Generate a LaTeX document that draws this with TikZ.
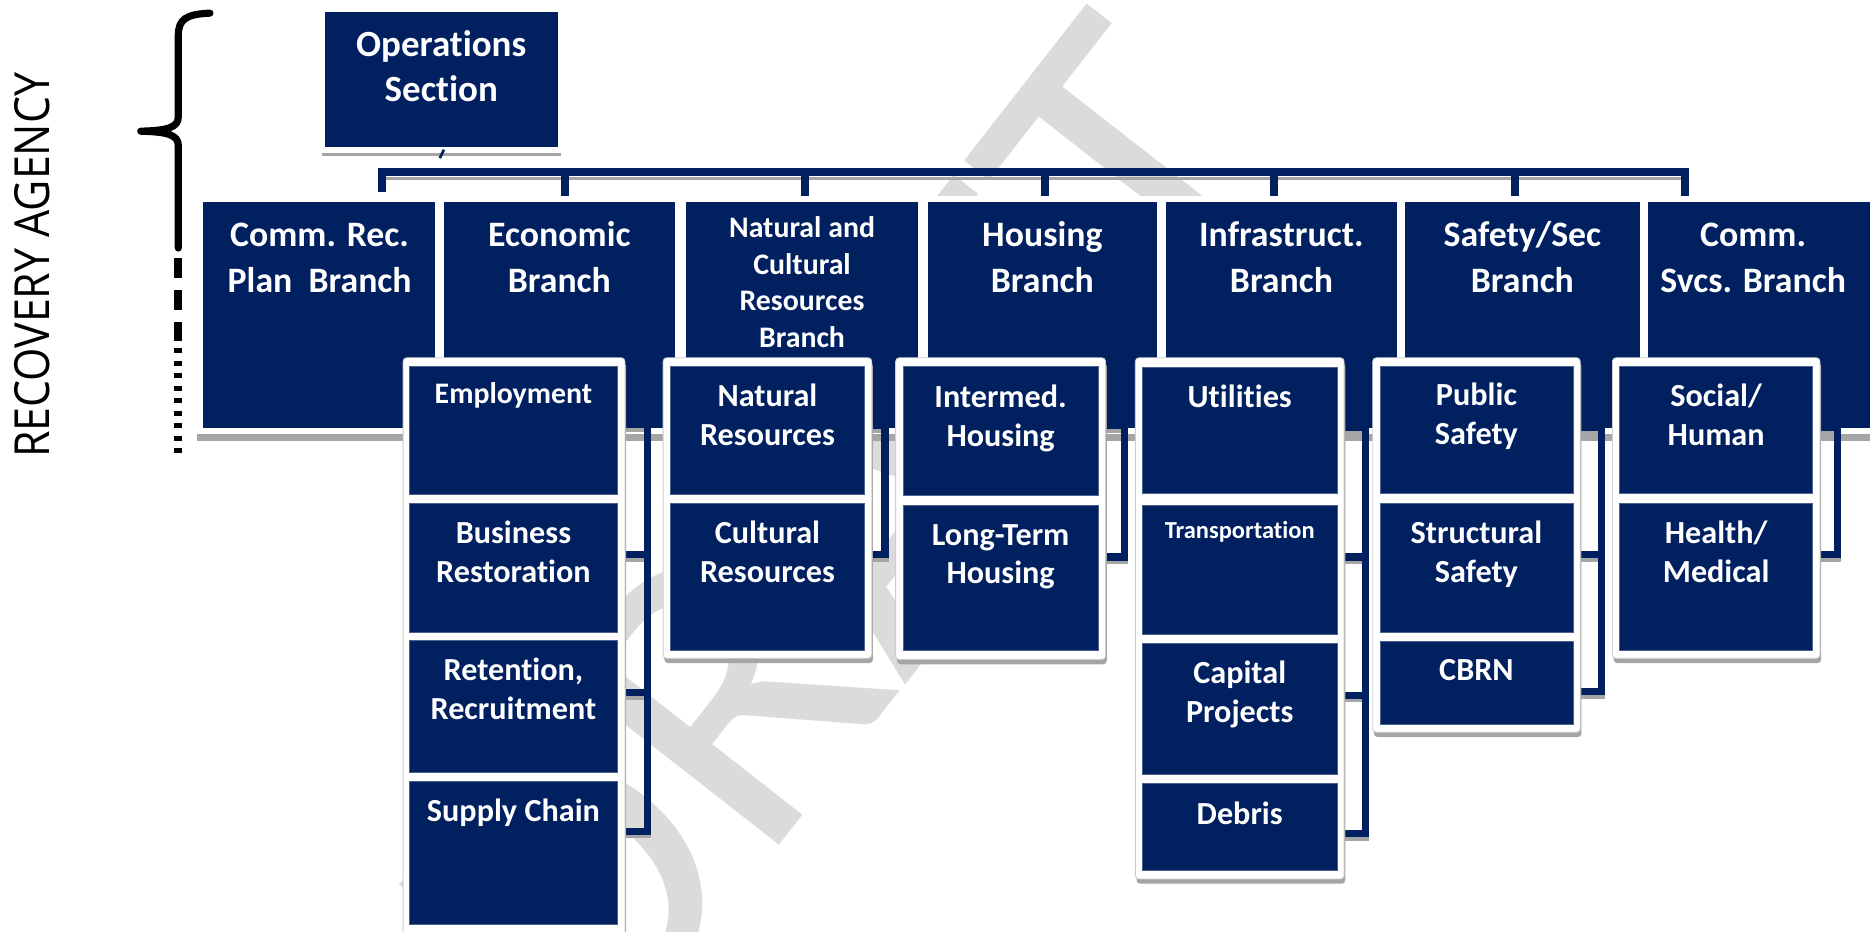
\documentclass[tikz,border=0pt]{standalone}
\usepackage{fontspec}
\usepackage{graphicx}
\setmainfont{Carlito}[RawFeature={-liga}]
\newfontfamily\recfont{Open Sans}
\usetikzlibrary{shadows}
\definecolor{navy}{RGB}{0,32,96}
\definecolor{shgray}{RGB}{165,165,165}
\definecolor{wmgray}{RGB}{219,219,219}
\definecolor{fgray}{RGB}{205,205,205}
\newcommand{\tl}[1]{\begin{tabular}[t]{@{}c@{}}#1\end{tabular}}
\newcommand{\bx}[6][]{\node[inner sep=0pt, outer sep=0pt, minimum width={#5-#3}, minimum height={#6-#4}, #1] (#2) at ({(#3+#5)/2},{(#4+#6)/2}) {};}
\begin{document}
\begin{tikzpicture}[x=1pt,y=-1pt,
  nbr/.style={fill=navy, draw=white, line width=5pt},
  nch/.style={fill=navy, draw=navy!70!white, line width=0.5pt},
  cfr/.style={fill=white, draw=fgray, line width=0.7pt, rounded corners=3pt, general shadow={fill=shgray, shadow xshift=1pt, shadow yshift=-4pt}},
  bt/.style={text=white, anchor=base, inner sep=0pt, font=\bfseries\fontsize{30}{38}\selectfont},
  ct/.style={text=white, anchor=base, inner sep=0pt, font=\bfseries\fontsize{27}{32.5}\selectfont},
  conn/.style={draw=navy, line width=6pt},
  csh/.style={draw=shgray, line width=3pt},
  bus/.style={draw=navy, line width=6.5pt}]
\path[use as bounding box] (0,0) rectangle (1568,781);
\clip (0,0) rectangle (1568,781);

% watermark
\node[text=wmgray, font=\fontsize{360}{360}\selectfont, rotate=52, inner sep=0pt] (wm) at (708,452) {DRAFT};

% side label, brace and dashes
\node[rotate=90, inner sep=0pt] (rec) at (27.3,222.5) {\resizebox{323pt}{29.4pt}{\recfont RECOVERY AGENCY}};
\draw[black, line width=6pt, line cap=round, line join=round]
  (176,11) .. controls (156,12) and (149.5,16) .. (149.5,30) -- (149.5,98)
  .. controls (149.5,107) and (140,109.5) .. (118,110)
  .. controls (140,110.5) and (149.5,113) .. (149.5,122) -- (149.5,208);
\draw[black, line width=6.5pt, dash pattern=on 17pt off 10pt] (149.5,216) -- (149.5,286);
\draw[black, line width=6.5pt, dash pattern=on 4pt off 6.5pt] (149.5,292) -- (149.5,382);

% operations section
\bx[nbr, general shadow={fill=shgray, shadow yshift=-5pt}]{ops}{270}{7.5}{470.5}{125.5}
\node[bt, font=\bfseries\fontsize{31}{38}\selectfont] (tops) at (370,47.5) {\tl{Operations\\Section}};
\draw[navy, line width=2.2pt] ([xshift=2pt]ops.south) -- ++(-3.5,7);

% bus
\coordinate (busL) at (320,144.5);
\coordinate (busR) at (1413,144.5);
\coordinate (dCR) at (320,161);
\coordinate (dCS) at (1413,169);
\draw[shgray, line width=3pt] (323,149.5) -- (1410,149.5);
\draw[bus] (dCR) -- (busL) -- (busR) -- (dCS);
\foreach \dx in {474,675,876,1068,1270}{\draw[bus] (\dx,144.5) -- (\dx,169);}

% branch row
\fill[shgray] (165,175) rectangle (1592,370);
\bx[nbr]{bCR}{167.5}{166.5}{367.5}{361.5}
\bx[nbr]{bEco}{369.5}{166.5}{568.5}{361.5}
\bx[nbr]{bNat}{572.5}{166.5}{772.5}{361.5}
\bx[nbr]{bHou}{775.5}{166.5}{972.5}{361.5}
\bx[nbr]{bInf}{975.5}{166.5}{1173.5}{361.5}
\bx[nbr]{bSaf}{1175.5}{166.5}{1377.5}{361.5}
\bx[nbr]{bCS}{1379.5}{166.5}{1592.5}{361.5}
\node[bt] (tCR) at (268,207) {\tl{Comm. Rec.\\Plan\ \ Branch}};
\node[bt] (tEco) at (469,207) {\tl{Economic\\Branch}};
\node[bt, font=\bfseries\fontsize{25}{30.5}\selectfont] (tNat) at (672.5,199.5) {\tl{Natural and\\Cultural\\Resources\\Branch}};
\node[bt] (tHou) at (874,207) {\tl{Housing\\Branch}};
\node[bt] (tInf) at (1074.5,207) {\tl{Infrastruct.\\Branch}};
\node[bt] (tSaf) at (1276.5,207) {\tl{Safety/Sec\\Branch}};
\node[bt] (tCS) at (1470,207) {\tl{Comm.\\Svcs. Branch}};

% connector shadows
\foreach \a/\b/\y in {524/546/356,524/546/465,524/546/581,524/546/697,
  731/745/357,731/745/465, 927/946/357,927/946/467,
  1127/1148/358,1127/1148/467,1127/1148/583,1127/1148/699,
  1325/1346/358,1325/1346/465,1325/1346/580, 1526/1544/358,1526/1544/465}
  {\draw[csh] (\a,\y+4.5) -- (\b,\y+4.5);}

% connectors
\coordinate (vEco) at (543,268);
\coordinate (vNat) at (742,268);
\coordinate (vHou) at (943,268);
\coordinate (vInf) at (1145,268);
\coordinate (vSaf) at (1343,268);
\coordinate (vCS) at (1541,268);
\draw[conn] (524,697) -| (vEco);
\foreach \y in {356,465,581}{\draw[conn] (524,\y) -- (546,\y);}
\draw[conn] (731,465) -| (vNat);
\draw[conn] (731,357) -- (745,357);
\draw[conn] (927,467) -| (vHou);
\draw[conn] (927,357) -- (946,357);
\draw[conn] (1127,699) -| (vInf);
\foreach \y in {358,467,583}{\draw[conn] (1127,\y) -- (1148,\y);}
\draw[conn] (1325,580) -| (vSaf);
\foreach \y in {358,465}{\draw[conn] (1325,\y) -- (1346,\y);}
\draw[conn] (1526,465) -| (vCS);
\draw[conn] (1526,358) -- (1544,358);

% child frames
\bx[cfr]{fEco}{338}{300}{524}{795}
\bx[cfr]{fNat}{556}{300}{731}{552}
\bx[cfr]{fHou}{751}{300}{927}{553}
\bx[cfr]{fInf}{952}{300}{1127}{737}
\bx[cfr]{fSaf}{1151}{300}{1325}{614}
\bx[cfr]{fCS}{1352}{300}{1526}{552}

% child boxes
\bx[nch]{emp}{343}{307}{518}{414.5}
\bx[nch]{bus}{343}{422}{518}{530}
\bx[nch]{ret}{343}{537}{518}{647.5}
\bx[nch]{sup}{343}{655}{518}{775}
\bx[nch]{nr}{562}{307}{725}{414.5}
\bx[nch]{cr}{562}{422}{725}{545}
\bx[nch]{ih}{757}{307.5}{921}{415}
\bx[nch]{lt}{757}{423.5}{921}{545}
\bx[nch]{ut}{958}{308}{1121}{414}
\bx[nch]{tr}{958}{424}{1121}{532}
\bx[nch]{cp}{958}{539}{1121}{649}
\bx[nch]{db}{958}{657}{1121}{730}
\bx[nch]{ps}{1157}{307}{1319}{414}
\bx[nch]{ss}{1157}{422}{1319}{530}
\bx[nch]{cb}{1157}{538}{1319}{607}
\bx[nch]{sh}{1358}{307}{1520}{414}
\bx[nch]{hm}{1358}{422}{1520}{545}

% child texts
\node[ct, font=\bfseries\fontsize{25}{30}\selectfont] (temp) at (430.5,338) {\tl{Employment}};
\node[ct] (tbus) at (430.5,455.6) {\tl{Business\\Restoration}};
\node[ct] (tret) at (430.5,570.5) {\tl{Retention,\\Recruitment}};
\node[ct] (tsup) at (430.5,689) {\tl{Supply Chain}};
\node[ct] (tnr) at (643.5,341) {\tl{Natural\\Resources}};
\node[ct] (tcr) at (643.5,456) {\tl{Cultural\\Resources}};
\node[ct] (tih) at (839,341.5) {\tl{Intermed.\\Housing}};
\node[ct] (tlt) at (839,457) {\tl{Long-Term\\Housing}};
\node[ct] (tut) at (1039.5,341.6) {\tl{Utilities}};
\node[ct, font=\bfseries\fontsize{20.5}{24}\selectfont] (ttr) at (1039.5,451.4) {\tl{Transportation}};
\node[ct] (tcp) at (1039.5,573) {\tl{Capital\\Projects}};
\node[ct] (tdb) at (1039.5,691) {\tl{Debris}};
\node[ct] (tps) at (1238,340) {\tl{Public\\Safety}};
\node[ct] (tss) at (1238,456) {\tl{Structural\\Safety}};
\node[ct] (tcb) at (1238,571) {\tl{CBRN}};
\node[ct] (tsh) at (1439,341) {\tl{Social/\\Human}};
\node[ct] (thm) at (1439,456) {\tl{Health/\\Medical}};
\end{tikzpicture}
\end{document}
